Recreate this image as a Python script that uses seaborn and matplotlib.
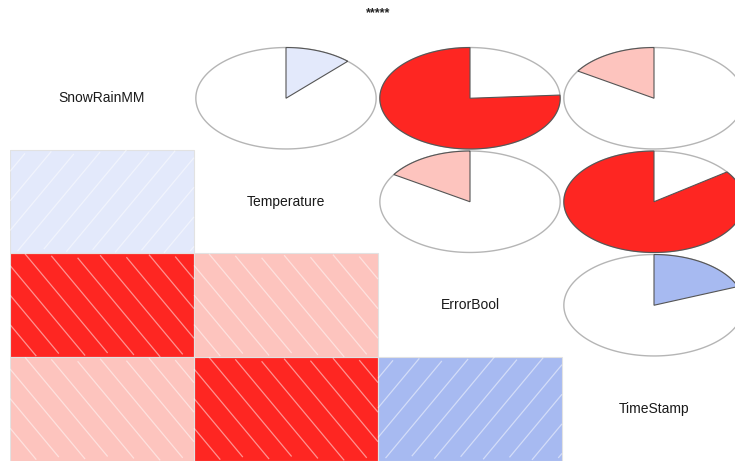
import numpy as np
import pandas as pd
import matplotlib
matplotlib.use("Agg")
import matplotlib.pyplot as plt
import seaborn as sns
from matplotlib.colors import LinearSegmentedColormap, ListedColormap
from matplotlib.patches import Polygon, Rectangle

# variables and pairwise correlations
variables = ["SnowRainMM", "Temperature", "ErrorBool", "TimeStamp"]
pair_a = ["SnowRainMM", "SnowRainMM", "SnowRainMM", "Temperature", "Temperature", "ErrorBool"]
pair_b = ["Temperature", "ErrorBool", "TimeStamp", "ErrorBool", "TimeStamp", "TimeStamp"]
pair_r = [0.12, -0.76, -0.16, -0.16, -0.85, 0.19]
title = "*****"

corr = pd.DataFrame(np.eye(len(variables)), index=variables, columns=variables)
for a, b, r in zip(pair_a, pair_b, pair_r):
    corr.loc[a, b] = r
    corr.loc[b, a] = r

# corrgram style palette: 14 bins from red -> salmon -> white -> royalblue -> navy
ramp = LinearSegmentedColormap.from_list("cg", ["red", "salmon", "white", "royalblue", "navy"])
cmap = ListedColormap([ramp(t) for t in np.linspace(0, 1, 14)])
norm = plt.Normalize(-1, 1)

sns.set_style("white")
plt.rcParams["font.family"] = ["Liberation Sans", "DejaVu Sans"]

W, H = 735, 461
fig = plt.figure(figsize=(W / 100, H / 100), dpi=100)
ax = fig.add_axes([10 / W, 0.5 / H, 736 / W, 414 / H])

n = len(variables)
lower = np.triu(np.ones((n, n), dtype=bool))
sns.heatmap(corr, mask=lower, cmap=cmap, vmin=-1, vmax=1, cbar=False,
            linewidths=0, ax=ax)
ax.set_xticks([])
ax.set_yticks([])
ax.set_xlabel("")
ax.set_ylabel("")
ax.set_xlim(0, n)
ax.set_ylim(n, 0)

# hatching in the shaded cells
cell_w, cell_h = 184.0, 103.5
slope = 1.2 * cell_w / cell_h  # pixel slope ~1.2 in cell units
step = 0.134
for i in range(n):
    for j in range(i):
        r = corr.iloc[i, j]
        x0, y0 = j, i
        for k in range(-20, 20):
            xs = np.linspace(0, 1, 50)
            if r > 0:
                ys = 1 - slope * (xs - (k * step + 0.03))
            else:
                ys = slope * (xs - (k * step + 0.08))
            ok = (ys >= 0) & (ys <= 1)
            if ok.sum() < 2:
                continue
            ax.plot(x0 + xs[ok], y0 + ys[ok], color="white", lw=0.9, alpha=0.5,
                    solid_capstyle="butt")
        ax.add_patch(Rectangle((j, i), 1, 1, fill=False, edgecolor="#e2e2e2", lw=0.8))

# pies in the upper triangle
rad = 0.49
t_full = np.linspace(0, 2 * np.pi, 200)
for i in range(n):
    for j in range(i + 1, n):
        r = corr.iloc[i, j]
        cx, cy = j + 0.5, i + 0.5
        ax.add_patch(Polygon(np.c_[cx + rad * np.cos(t_full), cy - rad * np.sin(t_full)],
                             closed=True, facecolor="white", edgecolor="#b5b5b5", lw=1.0))
        theta = np.linspace(np.pi / 2, np.pi / 2 - 2 * np.pi * r, 120)
        pts = np.c_[cx + rad * np.cos(theta), cy - rad * np.sin(theta)]
        pts = np.vstack([[cx, cy], pts])
        ax.add_patch(Polygon(pts, closed=True, facecolor=cmap(norm(r)),
                             edgecolor="#555555", lw=0.8))

# variable names on the diagonal
for k, name in enumerate(variables):
    ax.text(k + 0.5, k + 0.5, name, ha="center", va="center", fontsize=10, color="#1a1a1a")

fig.text(378 / W, 1 - 13 / H, title, ha="center", va="center", fontsize=9,
         fontweight="bold", color="#222222")

fig.savefig("out.png", dpi=100)
